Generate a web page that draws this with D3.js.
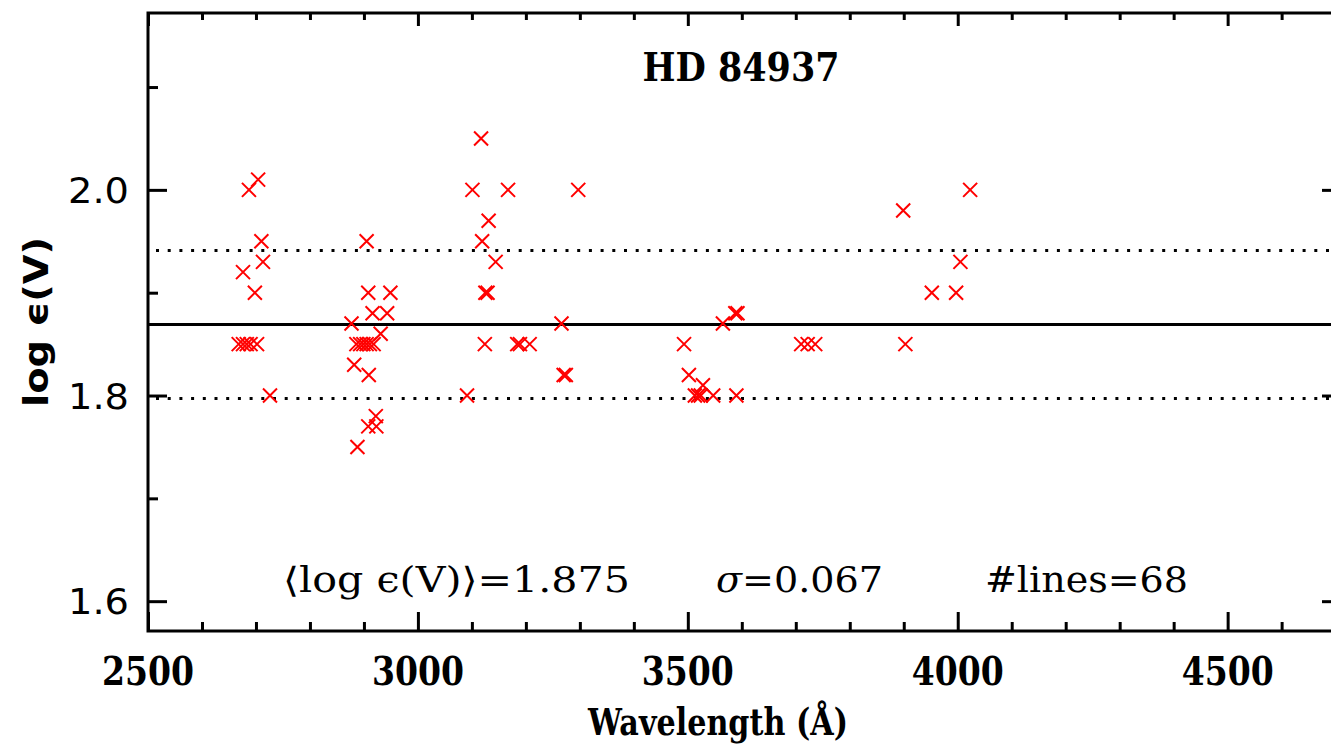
<!DOCTYPE html>
<html>
<head>
<meta charset="utf-8">
<script src="https://cdn.jsdelivr.net/npm/d3@7"></script>
<style>
  body { margin: 0; background: #fff; }
  svg { display: block; }
</style>
</head>
<body>
<script>
// line wavelengths (Å) and abundances
const wavelengths = [
  2668, 2676, 2683, 2690, 2702, 2676, 2687, 2704, 2710, 2698, 2713, 2726,
  2905, 2908, 2949, 2916, 2943, 2877, 2931, 2886, 2893, 2899, 2905, 2911, 2918,
  2882, 2909, 2922, 2908, 2923, 2888,
  3117, 3101, 3167, 3297, 3131, 3119, 3144, 3125, 3129, 3266, 3124, 3184, 3189,
  3207, 3270, 3274, 3091,
  3493, 3502, 3528, 3513, 3519, 3524, 3547, 3590, 3565, 3588, 3592, 3710, 3722, 3736,
  3899, 4023, 4005, 3952, 3997, 3903
];
const abundances = [
  1.85, 1.85, 1.85, 1.85, 1.85, 1.92, 2.00, 2.01, 1.95, 1.90, 1.93, 1.80,
  1.95, 1.90, 1.90, 1.88, 1.88, 1.87, 1.86, 1.85, 1.85, 1.85, 1.85, 1.85, 1.85,
  1.83, 1.82, 1.78, 1.77, 1.77, 1.75,
  2.05, 2.00, 2.00, 2.00, 1.97, 1.95, 1.93, 1.90, 1.90, 1.87, 1.85, 1.85, 1.85,
  1.85, 1.82, 1.82, 1.80,
  1.85, 1.82, 1.81, 1.80, 1.80, 1.80, 1.80, 1.80, 1.87, 1.88, 1.88, 1.85, 1.85, 1.85,
  1.98, 2.00, 1.93, 1.90, 1.90, 1.85
];
const meanLine = 1.869;
const sigmaLines = [1.941, 1.797];
const xMajor = [2500, 3000, 3500, 4000, 4500];
const xMinor = d3.range(2600, 4701, 100).filter(v => v % 500 !== 0);
const yMajor = [1.6, 1.8, 2.0];
const yMinor = [1.7, 1.9, 2.1];

const w = 1331;
const h = 749;
const pLeft = 148, pRight = 1341, pTop = 13, pBottom = 631;

const svg = d3.select('body').append('svg').attr('width', w).attr('height', h);

const x = d3.scaleLinear().domain([2500, 4710]).range([pLeft, pRight]);
const y = d3.scaleLinear().domain([1.571, 2.172]).range([pBottom, pTop]);

const serif = "'DejaVu Serif', 'Liberation Serif', serif";
const sans = "'DejaVu Sans', 'Liberation Sans', sans-serif";

// ticks: bottom, top, left, right (all pointing inward)
const tickAxis = (axisFn, scale, vals, size, tx, ty) => {
  const g = svg.append('g')
    .attr('transform', `translate(${tx},${ty})`)
    .call(axisFn(scale).tickValues(vals).tickSize(-size).tickFormat(''));
  g.select('.domain').remove();
  g.selectAll('.tick line').attr('stroke', '#000').attr('stroke-width', 3);
  return g;
};
tickAxis(d3.axisBottom, x, xMajor, 19, 0, pBottom);
tickAxis(d3.axisBottom, x, xMinor, 9, 0, pBottom);
tickAxis(d3.axisTop, x, xMajor, 13, 0, pTop);
tickAxis(d3.axisTop, x, xMinor, 7, 0, pTop);
tickAxis(d3.axisLeft, y, yMajor, 19, pLeft, 0);
tickAxis(d3.axisLeft, y, yMinor, 10, pLeft, 0);
tickAxis(d3.axisRight, y, yMajor, 19, pRight, 0);
tickAxis(d3.axisRight, y, yMinor, 10, pRight, 0);

// tick labels
svg.append('g').selectAll('text')
  .data(xMajor).enter().append('text')
  .attr('x', d => x(d))
  .attr('y', 685)
  .attr('text-anchor', 'middle')
  .attr('font-family', serif)
  .attr('font-weight', 'bold')
  .attr('font-size', 39)
  .attr('textLength', 92)
  .attr('lengthAdjust', 'spacingAndGlyphs')
  .text(d => d);

svg.append('g').selectAll('text')
  .data(yMajor).enter().append('text')
  .attr('x', 129)
  .attr('y', d => y(d) + 13)
  .attr('text-anchor', 'end')
  .attr('font-family', sans)
  .attr('font-size', 35)
  .attr('textLength', 61)
  .attr('lengthAdjust', 'spacingAndGlyphs')
  .text(d => d.toFixed(1));

// reference lines
svg.append('line')
  .attr('x1', pLeft).attr('x2', pRight)
  .attr('y1', y(meanLine)).attr('y2', y(meanLine))
  .attr('stroke', '#000').attr('stroke-width', 3);

svg.selectAll('.sig')
  .data(sigmaLines).enter().append('line')
  .attr('x1', pLeft + 8).attr('x2', pRight)
  .attr('y1', d => y(d)).attr('y2', d => y(d))
  .attr('stroke', '#000').attr('stroke-width', 3)
  .attr('stroke-dasharray', '3,8.7');

// crosses
const s = 7;
const pts = wavelengths.map((wl, i) => [wl, abundances[i]]);
svg.append('g').selectAll('path')
  .data(pts).enter().append('path')
  .attr('d', d => {
    const cx = x(d[0]), cy = y(d[1]);
    return `M${cx - s},${cy - s}L${cx + s},${cy + s}M${cx - s},${cy + s}L${cx + s},${cy - s}`;
  })
  .attr('stroke', '#ff0000')
  .attr('stroke-width', 2)
  .attr('fill', 'none');

// frame
svg.append('rect')
  .attr('x', pLeft).attr('y', pTop)
  .attr('width', pRight - pLeft).attr('height', pBottom - pTop)
  .attr('fill', 'none').attr('stroke', '#000').attr('stroke-width', 3);

// title
svg.append('text')
  .attr('x', 741).attr('y', 81)
  .attr('text-anchor', 'middle')
  .attr('font-family', serif)
  .attr('font-weight', 'bold')
  .attr('font-size', 40)
  .attr('textLength', 197)
  .attr('lengthAdjust', 'spacingAndGlyphs')
  .text('HD 84937');

// statistics
const statY = 592;
const stat1 = svg.append('text')
  .attr('x', 283).attr('y', statY)
  .attr('font-family', serif).attr('font-size', 35)
  .attr('textLength', 347).attr('lengthAdjust', 'spacingAndGlyphs')
  .text('⟨log ϵ(V)⟩=1.875');

const stat2 = svg.append('text')
  .attr('x', 716).attr('y', statY)
  .attr('font-family', serif).attr('font-size', 35)
  .attr('textLength', 167).attr('lengthAdjust', 'spacingAndGlyphs');
stat2.append('tspan').attr('font-style', 'italic').text('σ');
stat2.append('tspan').text('=0.067');

svg.append('text')
  .attr('x', 985).attr('y', statY)
  .attr('font-family', serif).attr('font-size', 35)
  .attr('textLength', 203).attr('lengthAdjust', 'spacingAndGlyphs')
  .text('#lines=68');

// axis titles
svg.append('text')
  .attr('x', 718).attr('y', 735)
  .attr('text-anchor', 'middle')
  .attr('font-family', serif)
  .attr('font-weight', 'bold')
  .attr('font-size', 38)
  .attr('textLength', 260)
  .attr('lengthAdjust', 'spacingAndGlyphs')
  .text('Wavelength (Å)');

svg.append('text')
  .attr('transform', 'translate(48,322) rotate(-90)')
  .attr('text-anchor', 'middle')
  .attr('font-family', sans)
  .attr('font-weight', 'bold')
  .attr('font-size', 34)
  .attr('textLength', 170)
  .attr('lengthAdjust', 'spacingAndGlyphs')
  .text('log ϵ(V)');
</script>
</body>
</html>
